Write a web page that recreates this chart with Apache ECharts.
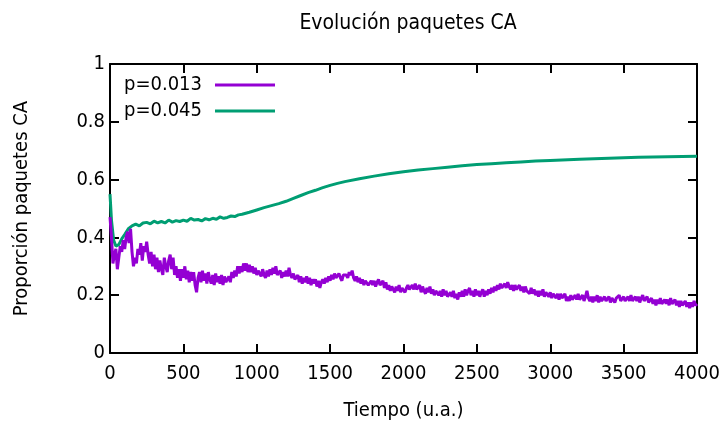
<!DOCTYPE html>
<html><head><meta charset="utf-8">
<script src="https://cdn.jsdelivr.net/npm/echarts@6/dist/echarts.min.js"></script>
<style>html,body{margin:0;padding:0;background:#fff}#c{width:724px;height:430px}</style>
</head><body><div id="c"></div>
<script>
const title = "Evolución paquetes CA";
const xName = "Tiempo (u.a.)";
const yName = "Proporción paquetes CA";
const seriesNames = ["p=0.013", "p=0.045"];
const xTicks = [0, 500, 1000, 1500, 2000, 2500, 3000, 3500, 4000];
const yTicks = [0, 0.2, 0.4, 0.6, 0.8, 1];

// p=0.013, sampled every 10 time units from 0 to 4000 (one row = 200 time units)
const purpleStep = 10;
const purpleValues = [
0.47,0.40,0.31,0.34,0.36,0.29,0.33,0.37,0.35,0.39,0.36,0.40,0.42,0.38,0.43,0.35,0.30,0.33,0.31,0.36,
0.34,0.38,0.32,0.37,0.35,0.385,0.34,0.31,0.35,0.30,0.34,0.29,0.33,0.28,0.32,0.29,0.27,0.33,0.30,0.28,
0.32,0.34,0.29,0.33,0.27,0.30,0.26,0.29,0.25,0.29,0.26,0.30,0.255,0.285,0.245,0.28,0.25,0.28,0.235,0.21,
0.26,0.28,0.245,0.285,0.25,0.275,0.24,0.28,0.255,0.24,0.27,0.235,0.275,0.245,0.265,0.24,0.27,0.235,0.265,0.245,
0.24,0.265,0.245,0.28,0.26,0.285,0.265,0.30,0.275,0.30,0.28,0.31,0.285,0.31,0.28,0.305,0.28,0.30,0.275,0.295,
0.27,0.285,0.28,0.265,0.29,0.27,0.26,0.285,0.265,0.29,0.27,0.295,0.275,0.30,0.27,0.265,0.285,0.26,0.28,0.265,
0.285,0.265,0.295,0.27,0.26,0.275,0.255,0.25,0.27,0.245,0.265,0.24,0.26,0.245,0.265,0.24,0.26,0.235,0.255,0.24,
0.255,0.23,0.25,0.225,0.245,0.255,0.24,0.26,0.245,0.265,0.25,0.27,0.255,0.275,0.26,0.255,0.275,0.26,0.25,0.27,
0.265,0.27,0.26,0.28,0.27,0.285,0.26,0.25,0.265,0.245,0.26,0.24,0.255,0.235,0.25,0.255,0.235,0.23,0.25,0.235,
0.25,0.23,0.245,0.255,0.235,0.23,0.25,0.225,0.245,0.22,0.235,0.215,0.23,0.235,0.21,0.23,0.215,0.235,0.21,0.225,
0.23,0.21,0.225,0.235,0.22,0.215,0.235,0.22,0.24,0.22,0.215,0.235,0.21,0.23,0.215,0.205,0.225,0.21,0.23,0.205,
0.22,0.20,0.215,0.22,0.20,0.215,0.195,0.22,0.20,0.215,0.195,0.19,0.21,0.195,0.215,0.19,0.205,0.185,0.21,0.195,
0.215,0.195,0.22,0.20,0.215,0.225,0.20,0.215,0.195,0.22,0.20,0.215,0.195,0.21,0.22,0.195,0.215,0.20,0.22,0.205,
0.225,0.21,0.23,0.215,0.235,0.22,0.24,0.225,0.22,0.24,0.225,0.245,0.23,0.22,0.235,0.215,0.235,0.22,0.215,0.235,
0.215,0.23,0.21,0.23,0.215,0.21,0.205,0.225,0.205,0.22,0.20,0.215,0.195,0.215,0.20,0.22,0.195,0.21,0.215,0.195,
0.21,0.19,0.205,0.21,0.19,0.205,0.185,0.205,0.19,0.185,0.205,0.18,0.195,0.18,0.20,0.185,0.18,0.20,0.185,0.205,
0.185,0.19,0.20,0.18,0.195,0.215,0.19,0.18,0.195,0.175,0.195,0.18,0.20,0.175,0.195,0.18,0.175,0.195,0.18,0.175,
0.195,0.175,0.19,0.195,0.175,0.19,0.185,0.20,0.18,0.175,0.195,0.18,0.175,0.195,0.18,0.20,0.18,0.175,0.195,0.18,
0.195,0.175,0.19,0.20,0.18,0.175,0.195,0.175,0.17,0.19,0.17,0.185,0.165,0.185,0.17,0.19,0.17,0.165,0.185,0.17,
0.185,0.165,0.19,0.17,0.165,0.185,0.165,0.18,0.16,0.18,0.165,0.16,0.18,0.16,0.175,0.155,0.175,0.16,0.18,0.165,
0.17
];

// p=0.045
const greenTimes = [0,10,25,40,60,80,100,125,150,175,200,225,250,275,300,325,350,375,400,425,450,475,500,525,550,575,600,
625,650,675,700,725,750,775,800,825,850,875,900,950,1000,1050,1100,1150,1200,1250,1300,1350,1400,1450,1500,1550,1600,
1700,1800,1900,2000,2100,2200,2300,2400,2500,2600,2700,2800,2900,3000,3200,3400,3600,3800,4000];
const greenValues = [0.55,0.46,0.39,0.37,0.375,0.395,0.41,0.43,0.44,0.446,0.44,0.45,0.452,0.447,0.456,0.45,0.455,0.45,0.46,
0.453,0.458,0.455,0.46,0.456,0.466,0.46,0.462,0.457,0.465,0.461,0.466,0.463,0.471,0.466,0.469,0.474,0.472,0.478,0.48,
0.487,0.495,0.503,0.51,0.517,0.525,0.535,0.545,0.555,0.563,0.572,0.58,0.587,0.593,0.603,0.612,0.62,0.627,0.633,0.638,
0.643,0.648,0.652,0.655,0.658,0.661,0.664,0.666,0.67,0.674,0.677,0.679,0.681];

const purpleData = purpleValues.map((v, i) => [i * purpleStep, v]);
const greenData = greenTimes.map((t, i) => [t, greenValues[i]]);

const FONT = "'Liberation Sans Narrow','DejaVu Sans Condensed','Liberation Sans',sans-serif";
const txt = {fontFamily: FONT, fontSize: 20, color: '#000'};

const chart = echarts.init(document.getElementById('c'), null, {renderer: 'canvas'});
const axisCommon = {
  min: 0, axisLine: {show: true, onZero: false, lineStyle: {color: '#000', width: 2}},
  axisTick: {show: true, inside: true, length: 9, lineStyle: {color: '#000', width: 2}},
  splitLine: {show: false}
};
chart.setOption({
  animation: false,
  title: {text: title, left: 403, top: 8, textAlign: 'center', textStyle: Object.assign({}, txt, {fontWeight: 'normal', fontSize: 21})},
  grid: {left: 110, right: 27, top: 64, bottom: 77},
  legend: {
    orient: 'vertical', left: 119, top: 70, align: 'right', itemGap: 6,
    icon: 'rect', itemWidth: 60, itemHeight: 3,
    textStyle: Object.assign({}, txt, {padding: [0, 8, 0, 0]}), data: seriesNames
  },
  xAxis: [
    Object.assign({}, axisCommon, {type: 'value', max: 4000, interval: 500, position: 'bottom',
      name: xName, nameLocation: 'middle', nameGap: 48, nameTextStyle: txt,
      axisLabel: Object.assign({}, txt, {margin: 11, formatter: v => String(v)})}),
    Object.assign({}, axisCommon, {type: 'value', max: 4000, interval: 500, position: 'top', axisLabel: {show: false}})
  ],
  yAxis: [
    Object.assign({}, axisCommon, {type: 'value', max: 1, interval: 0.2, position: 'left',
      name: yName, nameLocation: 'middle', nameGap: 78, nameTextStyle: txt,
      axisLabel: Object.assign({}, txt, {margin: 5, formatter: v => String(Math.round(v * 10) / 10)})}),
    Object.assign({}, axisCommon, {type: 'value', max: 1, interval: 0.2, position: 'right', axisLabel: {show: false}})
  ],
  series: [
    {name: seriesNames[0], type: 'line', data: purpleData, showSymbol: false, symbol: 'none',
     lineStyle: {color: '#9400d3', width: 3}, itemStyle: {color: '#9400d3'}, z: 3},
    {name: seriesNames[1], type: 'line', data: greenData, showSymbol: false, symbol: 'none',
     lineStyle: {color: '#009e73', width: 3}, itemStyle: {color: '#009e73'}, z: 2}
  ]
});
</script></body></html>
